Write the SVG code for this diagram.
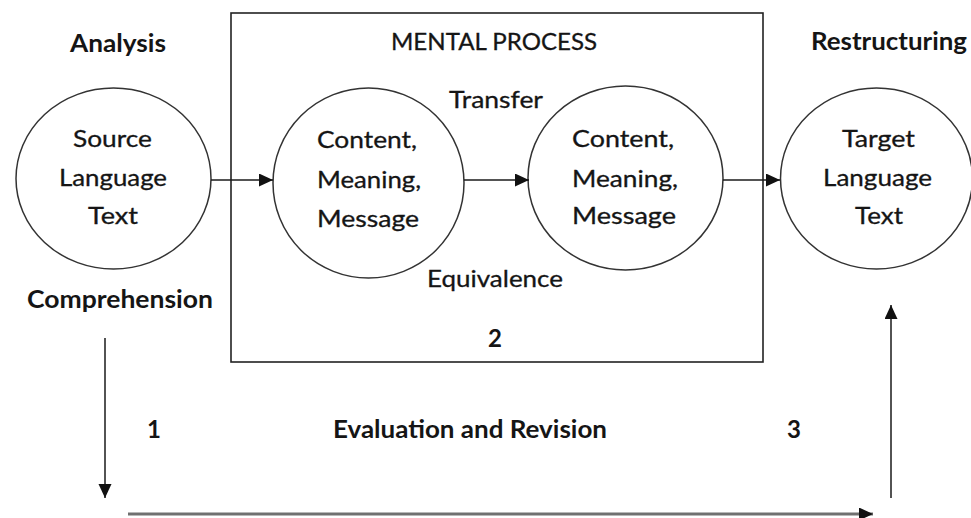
<svg xmlns="http://www.w3.org/2000/svg" width="971" height="518" viewBox="0 0 971 518">
  <style>
    .t { font-family: Lato, "Open Sans", "Liberation Sans", sans-serif; font-size: 22.5px; fill: #151515; stroke: #151515; stroke-width: 0.3; text-anchor: middle; }
    .b { font-family: Lato, "Open Sans", "Liberation Sans", sans-serif; font-size: 24px; font-weight: bold; fill: #151515; text-anchor: middle; }
    .node { fill: #ffffff; stroke: #333333; stroke-width: 1.5; }
    .frame { fill: none; stroke: #222222; stroke-width: 1.6; }
    .link { stroke: #1a1a1a; stroke-width: 1.5; fill: none; }
    .flow { stroke: #707070; stroke-width: 3; fill: none; }
  </style>
  <defs>
    <marker id="arrow" markerUnits="userSpaceOnUse" markerWidth="16" markerHeight="14" refX="14" refY="6.5" orient="auto">
      <path d="M0,0 L14,6.5 L0,13 Z" fill="#111111"/>
    </marker>
  </defs>
  <rect width="971" height="518" fill="#ffffff"/>

  <!-- mental process frame -->
  <g id="mental-process">
    <rect class="frame" x="231" y="13" width="532" height="349"/>
    <text class="t" x="494" y="50" textLength="206" lengthAdjust="spacingAndGlyphs">MENTAL PROCESS</text>
    <text class="t" x="496" y="108" textLength="94" lengthAdjust="spacingAndGlyphs">Transfer</text>
    <text class="t" x="495" y="287" textLength="136" lengthAdjust="spacingAndGlyphs">Equivalence</text>
    <text class="b" x="495" y="347">2</text>
  </g>

  <!-- stage labels -->
  <g id="labels">
    <text class="b" x="118" y="52" textLength="96" lengthAdjust="spacingAndGlyphs">Analysis</text>
    <text class="b" x="120" y="308" textLength="186" lengthAdjust="spacingAndGlyphs">Comprehension</text>
    <text class="b" x="889" y="50" textLength="156" lengthAdjust="spacingAndGlyphs">Restructuring</text>
    <text class="b" x="154" y="438">1</text>
    <text class="b" x="470" y="438" textLength="274" lengthAdjust="spacingAndGlyphs">Evaluation and Revision</text>
    <text class="b" x="794" y="438">3</text>
  </g>

  <!-- nodes -->
  <g id="source-text">
    <ellipse class="node" cx="113.5" cy="178.5" rx="97.5" ry="90.5"/>
    <text class="t" x="112.5" y="147" textLength="79" lengthAdjust="spacingAndGlyphs">Source</text>
    <text class="t" x="113" y="186" textLength="108" lengthAdjust="spacingAndGlyphs">Language</text>
    <text class="t" x="113" y="224" textLength="50" lengthAdjust="spacingAndGlyphs">Text</text>
  </g>

  <g id="source-meaning">
    <ellipse class="node" cx="368.5" cy="183" rx="95.5" ry="95"/>
    <text class="t" x="367" y="148" textLength="100" lengthAdjust="spacingAndGlyphs">Content,</text>
    <text class="t" x="369" y="188" textLength="104" lengthAdjust="spacingAndGlyphs">Meaning,</text>
    <text class="t" x="368" y="227" textLength="102" lengthAdjust="spacingAndGlyphs">Message</text>
  </g>

  <g id="target-meaning">
    <ellipse class="node" cx="625.5" cy="178" rx="97.5" ry="92"/>
    <text class="t" x="623" y="147" textLength="102" lengthAdjust="spacingAndGlyphs">Content,</text>
    <text class="t" x="625" y="187" textLength="106" lengthAdjust="spacingAndGlyphs">Meaning,</text>
    <text class="t" x="624" y="224" textLength="104" lengthAdjust="spacingAndGlyphs">Message</text>
  </g>

  <g id="target-text">
    <ellipse class="node" cx="876.5" cy="178.5" rx="96" ry="90.5"/>
    <text class="t" x="878.5" y="147" textLength="73" lengthAdjust="spacingAndGlyphs">Target</text>
    <text class="t" x="877.5" y="186" textLength="109" lengthAdjust="spacingAndGlyphs">Language</text>
    <text class="t" x="879" y="224" textLength="48" lengthAdjust="spacingAndGlyphs">Text</text>
  </g>

  <!-- connectors -->
  <g id="connectors">
    <line class="link" x1="211" y1="180" x2="273" y2="180" marker-end="url(#arrow)"/>
    <line class="link" x1="464" y1="180" x2="529" y2="180" marker-end="url(#arrow)"/>
    <line class="link" x1="723" y1="180" x2="780" y2="180" marker-end="url(#arrow)"/>
    <line class="link" x1="105" y1="338" x2="105" y2="498" marker-end="url(#arrow)"/>
    <line class="flow" x1="128" y1="514" x2="873" y2="514" marker-end="url(#arrow)"/>
    <line class="link" x1="891" y1="498" x2="891" y2="305" marker-end="url(#arrow)"/>
  </g>
</svg>
